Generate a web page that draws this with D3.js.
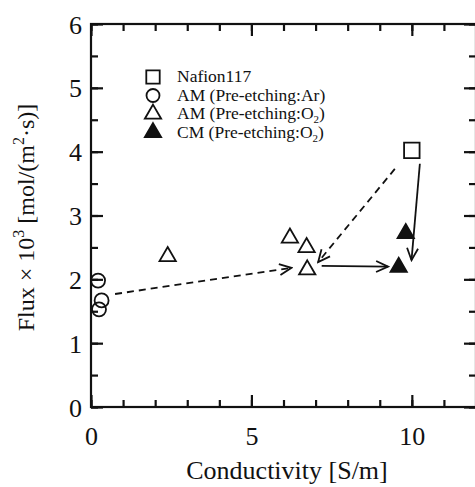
<!DOCTYPE html>
<html lang="en">
<meta charset="UTF-8">
<title>Flux vs Conductivity</title>
<style>
body {margin:0; background:#fff}
svg text {font-family: "Liberation Serif", "Times New Roman", serif; fill:#111}
</style>
<body>
<div id="chart"></div>
<script src="https://d3js.org/d3.v7.min.js"></script>
<script>
// values  [conductivity S/m, flux x10^3]
var nafion = [[10.0, 4.02]];
var amAr = [[0.22, 1.98], [0.33, 1.67], [0.25, 1.53]];
var amO2 = [[2.39, 2.36], [6.2, 2.65], [6.72, 2.5], [6.74, 2.15]];
var cmO2 = [[9.81, 2.72], [9.59, 2.19]];

// arrows between groups: [from, to]
var dashedArrows = [[[0.75, 1.77], [6.25, 2.18]], [[9.47, 3.73], [7.08, 2.27]]];
var solidArrows = [[[7.19, 2.21], [9.26, 2.2]], [[10.25, 3.81], [9.99, 2.3]]];

var xTicks = [0, 5, 10];
var yTicks = [0, 1, 2, 3, 4, 5, 6];

var margin = {top: 24, right: -1, bottom: 80, left: 91},
    width = 475 - margin.left - margin.right,
    height = 487 - margin.top - margin.bottom;

var svg = d3.select("#chart").append("svg")
    .attr("width", 475)
    .attr("height", 487)
  .append("g")
    .attr("transform", "translate(" + margin.left + "," + margin.top + ")");

var x = d3.scaleLinear().domain([0, 12]).range([0, 385]);
var y = d3.scaleLinear().domain([0, 6]).range([height, 0]);

// arrow head
svg.append("defs").append("marker")
    .attr("id", "head")
    .attr("markerUnits", "userSpaceOnUse")
    .attr("viewBox", "-13 -7 15 14")
    .attr("markerWidth", 15).attr("markerHeight", 14)
    .attr("refX", 0).attr("refY", 0)
    .attr("orient", "auto")
  .append("path")
    .attr("d", "M-12,-5.5L0,0L-12,5.5")
    .attr("fill", "none")
    .attr("stroke", "#111")
    .attr("stroke-width", 1.8);

// frame
svg.append("rect")
    .attr("width", x(12)).attr("height", height)
    .attr("fill", "none").attr("stroke", "#111").attr("stroke-width", 2.2);

function ticks(axis, tr, major, minor) {
  var g = svg.append("g").attr("transform", tr);
  g.call(axis.tickValues(minor).tickSize(-7).tickFormat(""));
  var g2 = svg.append("g").attr("transform", tr);
  g2.call(major);
  [g, g2].forEach(function(s) {
    s.select(".domain").remove();
    s.selectAll("line").attr("stroke", "#111").attr("stroke-width", 2.2);
  });
  return g2;
}

var xMinor = d3.range(0, 13, 1), yMinor = d3.range(0, 6.01, 0.5);
var fmt = d3.format("d");

var gx = ticks(d3.axisBottom(x), "translate(0," + height + ")", d3.axisBottom(x).tickValues(xTicks).tickFormat(fmt).tickSize(-12).tickPadding(16), xMinor);
gx.selectAll("text").style("font-size", "26px").attr("dy", "0.85em");
ticks(d3.axisTop(x), "translate(0,0)", d3.axisTop(x).tickValues(xTicks).tickSize(-12).tickFormat(""), xMinor);
var gy = ticks(d3.axisLeft(y), "translate(0,0)", d3.axisLeft(y).tickValues(yTicks).tickFormat(fmt).tickSize(-12), yMinor);
gy.selectAll("text").style("font-size", "26px").attr("dy", "0.35em").attr("x", -9);
ticks(d3.axisRight(y), "translate(" + x(12) + ",0)", d3.axisRight(y).tickValues(yTicks).tickSize(-12).tickFormat(""), yMinor);

// axis titles
svg.append("text")
    .attr("x", 196).attr("y", 455)
    .attr("text-anchor", "middle")
    .style("font-size", "26px")
    .text("Conductivity [S/m]");

var yl = svg.append("text")
    .attr("transform", "translate(-57," + (height / 2 + 2) + ") rotate(-90)")
    .attr("text-anchor", "middle")
    .style("font-size", "24px");
yl.append("tspan").text("Flux \u00d7 10");
yl.append("tspan").attr("dy", -10).style("font-size", "16px").text("3");
yl.append("tspan").attr("dy", 10).text(" [mol/(m");
yl.append("tspan").attr("dy", -10).style("font-size", "16px").text("2");
yl.append("tspan").attr("dy", 10).text("\u00b7s)]");

// arrows
var line = d3.line().x(function(d) { return x(d[0]); }).y(function(d) { return y(d[1]); });
svg.selectAll(".darrow").data(dashedArrows).enter().append("path")
    .attr("d", line).attr("fill", "none").attr("stroke", "#111")
    .attr("stroke-width", 1.8).attr("stroke-dasharray", "7,5")
    .attr("marker-end", "url(#head)");
svg.selectAll(".sarrow").data(solidArrows).enter().append("path")
    .attr("d", line).attr("fill", "none").attr("stroke", "#111")
    .attr("stroke-width", 1.8)
    .attr("marker-end", "url(#head)");

// markers
var sq = d3.symbol().type(d3.symbolSquare).size(240);
var tri = d3.symbol().type(d3.symbolTriangle).size(115);

function draw(data, sym, fill) {
  svg.selectAll(null).data(data).enter().append("path")
    .attr("transform", function(d) { return "translate(" + x(d[0]) + "," + y(d[1]) + ")"; })
    .attr("d", sym)
    .attr("fill", fill).attr("stroke", "#111").attr("stroke-width", 1.8);
}
draw(nafion, sq, "#fff");
svg.selectAll(null).data(amAr).enter().append("circle")
    .attr("cx", function(d) { return x(d[0]); })
    .attr("cy", function(d) { return y(d[1]); })
    .attr("r", 7).attr("fill", "none").attr("stroke", "#111").attr("stroke-width", 1.8);
draw(amO2, tri, "none");
draw(cmO2, tri, "#111");

// legend
var legend = [
  {sym: "sq", label: ["Nafion117"]},
  {sym: "c", label: ["AM (Pre-etching:Ar)"]},
  {sym: "t", label: ["AM (Pre-etching:O", "2", ")"]},
  {sym: "ft", label: ["CM (Pre-etching:O", "2", ")"]}
];
var lg = svg.append("g").attr("transform", "translate(62,53)");
legend.forEach(function(d, i) {
  var row = lg.append("g").attr("transform", "translate(0," + (i * 18.5) + ")");
  if (d.sym == "c") row.append("circle").attr("r", 6.5);
  else row.append("path").attr("d", d.sym == "sq" ? d3.symbol().type(d3.symbolSquare).size(180)() : tri());
  row.select("*").attr("fill", d.sym == "ft" ? "#111" : "none").attr("stroke", "#111").attr("stroke-width", 1.8);
  var t = row.append("text").attr("x", 24).attr("y", 5).style("font-size", "17.5px");
  t.append("tspan").text(d.label[0]);
  if (d.label.length > 1) {
    t.append("tspan").attr("dy", 4).style("font-size", "11px").text(d.label[1]);
    t.append("tspan").attr("dy", -4).text(d.label[2]);
  }
});
</script>
</body>
</html>
